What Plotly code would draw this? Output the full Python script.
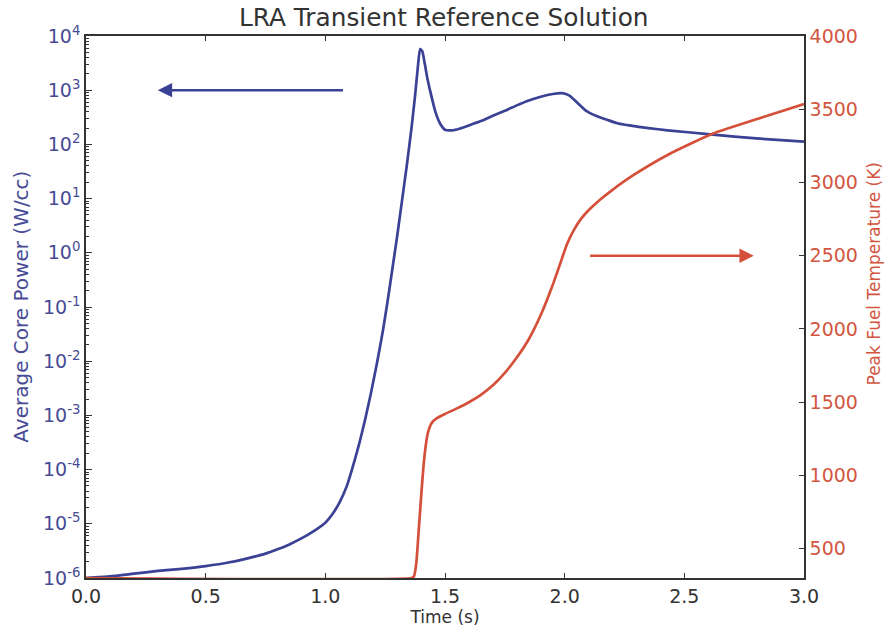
import plotly.graph_objects as go

# ---- data ----
time_power = [0.0, 0.1, 0.2, 0.3, 0.4, 0.5, 0.6, 0.7, 0.75, 0.8, 0.85, 0.9, 0.95, 1.0, 1.03,
              1.06, 1.09, 1.11, 1.14, 1.165, 1.19, 1.215, 1.24, 1.26, 1.28, 1.3, 1.32, 1.34,
              1.36, 1.375, 1.387, 1.396, 1.405, 1.415, 1.425, 1.44, 1.46, 1.48, 1.5, 1.53,
              1.56, 1.6, 1.65, 1.7, 1.75, 1.8, 1.85, 1.9, 1.95, 1.99, 2.02, 2.05, 2.09, 2.13,
              2.18, 2.22, 2.27, 2.35, 2.43, 2.62, 2.8, 3.0]
log_power = [-6.0, -5.97, -5.92, -5.87, -5.83, -5.78, -5.71, -5.61, -5.55, -5.47, -5.38,
             -5.27, -5.14, -4.98, -4.82, -4.6, -4.3, -4.02, -3.55, -3.1, -2.6, -2.05, -1.45,
             -0.9, -0.3, 0.3, 0.95, 1.6, 2.3, 2.9, 3.45, 3.76, 3.72, 3.5, 3.25, 2.95, 2.6,
             2.38, 2.27, 2.26, 2.29, 2.35, 2.43, 2.53, 2.62, 2.72, 2.81, 2.88, 2.93, 2.945,
             2.9, 2.78, 2.62, 2.53, 2.45, 2.39, 2.35, 2.3, 2.26, 2.18, 2.11, 2.05]
power = [10 ** v for v in log_power]

time_temp = [0.0, 1.36, 1.37, 1.38, 1.39, 1.4, 1.41, 1.42, 1.43, 1.44, 1.45, 1.465, 1.5,
             1.55, 1.6, 1.65, 1.7, 1.75, 1.8, 1.85, 1.9, 1.95, 1.98, 2.01, 2.04, 2.07, 2.1,
             2.15, 2.2, 2.29, 2.43, 2.62, 2.85, 3.0]
temperature = [300, 300, 310, 400, 620, 850, 1060, 1210, 1300, 1345, 1370, 1390, 1420,
               1458, 1500, 1550, 1615, 1700, 1805, 1930, 2095, 2300, 2440, 2580, 2680, 2755,
               2810, 2885, 2950, 3053, 3188, 3334, 3457, 3536]

power_tickvals = [1e-6, 1e-5, 1e-4, 1e-3, 1e-2, 1e-1, 1e0, 1e1, 1e2, 1e3, 1e4]
power_ticktext = ["10<sup>-6</sup>", "10<sup>-5</sup>", "10<sup>-4</sup>", "10<sup>-3</sup>",
                  "10<sup>-2</sup>", "10<sup>-1</sup>", "10<sup>0</sup>", "10<sup>1</sup>",
                  "10<sup>2</sup>", "10<sup>3</sup>", "10<sup>4</sup>"]
minor_multipliers = [2, 3, 4, 5, 6, 7, 8, 9]
power_minor = [m * d for d in power_tickvals[:-1] for m in minor_multipliers]
temp_tickvals = [500, 1000, 1500, 2000, 2500, 3000, 3500, 4000]
time_tickvals = [0.0, 0.5, 1.0, 1.5, 2.0, 2.5, 3.0]
time_ticktext = ["0.0", "0.5", "1.0", "1.5", "2.0", "2.5", "3.0"]

BLUE = "#3b4194"
RED = "#d5503a"
BLUE_TXT = "#474b95"
RED_TXT = "#d2563f"
DARK = "#333333"
FONT = "DejaVu Sans"

fig = go.Figure()
fig.add_trace(go.Scatter(x=time_power, y=power, mode="lines",
                         line=dict(color=BLUE, width=2.7, shape="spline", smoothing=0.5),
                         yaxis="y", showlegend=False))
fig.add_trace(go.Scatter(x=time_temp, y=temperature, mode="lines",
                         line=dict(color=RED, width=2.7, shape="spline", smoothing=0.5),
                         yaxis="y2", showlegend=False))

# arrows
fig.add_annotation(x=0.3, y=3, ax=1.08, ay=3, xref="x", yref="y", axref="x", ayref="y",
                   showarrow=True, arrowhead=2, arrowsize=1.1, arrowwidth=2.6,
                   arrowcolor=BLUE, text="")
fig.add_annotation(x=2.79, y=2500, ax=2.1, ay=2500, xref="x", yref="y2", axref="x",
                   ayref="y2", showarrow=True, arrowhead=2, arrowsize=1.1, arrowwidth=2.6,
                   arrowcolor=RED, text="")

# axis titles placed as in the reference
fig.add_annotation(text="Average Core Power (W/cc)", xref="paper", yref="paper",
                   x=-0.091, y=0.5, xanchor="center", yanchor="middle", textangle=-90,
                   showarrow=False, font=dict(family=FONT, size=20, color=BLUE_TXT))
fig.add_annotation(text="Peak Fuel Temperature (K)", xref="paper", yref="paper",
                   x=1.0975, y=0.56, xanchor="center", yanchor="middle", textangle=-90,
                   showarrow=False, font=dict(family=FONT, size=17, color=RED_TXT))

fig.update_layout(
    width=884, height=634,
    margin=dict(l=86, r=80, t=36, b=48),
    paper_bgcolor="white", plot_bgcolor="white",
    font=dict(family=FONT, size=19, color=DARK),
    title=dict(text="LRA Transient Reference Solution", x=0.502, xanchor="center",
               y=0.972, yanchor="middle", font=dict(family=FONT, size=24.8, color=DARK)),
    xaxis=dict(range=[0, 3], tickvals=time_tickvals, ticktext=time_ticktext,
               ticks="inside", ticklen=5, tickcolor=DARK, showline=True, linecolor=DARK,
               linewidth=1.5, mirror="ticks", showgrid=False, zeroline=False,
               tickfont=dict(size=19, color=DARK),
               title=dict(text="Time (s)", font=dict(size=17, color=DARK), standoff=4)),
    yaxis=dict(type="log", range=[-6, 4], tickvals=power_tickvals, ticktext=power_ticktext,
               ticks="inside", ticklen=6, tickcolor=DARK, showline=True, linecolor=DARK,
               linewidth=1.5, showgrid=False, zeroline=False,
               minor=dict(ticks="inside", ticklen=3, tickcolor=DARK, showgrid=False,
                          tickvals=power_minor),
               tickfont=dict(size=19, color=BLUE_TXT)),
    yaxis2=dict(overlaying="y", side="right", range=[300, 4000], tickvals=temp_tickvals,
                ticks="inside", ticklen=5, tickcolor=DARK, showline=True, linecolor=DARK,
                linewidth=1.5, showgrid=False, zeroline=False,
                tickfont=dict(size=19, color=RED_TXT)),
)

fig.write_html("out.html")
